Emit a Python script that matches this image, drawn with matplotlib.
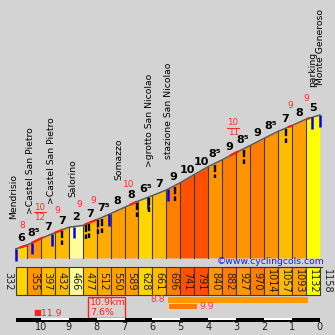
import numpy as np
import matplotlib
matplotlib.use('Agg')
import matplotlib.pyplot as plt
from matplotlib.transforms import blended_transform_factory, offset_copy
from matplotlib.patches import Rectangle

# ---------------- data ----------------
distances = [0.0, 0.4, 0.9, 1.4, 1.9, 2.4, 2.9, 3.4, 3.9, 4.4, 4.9, 5.4,
             5.9, 6.4, 6.9, 7.4, 7.9, 8.4, 8.9, 9.4, 9.9, 10.4, 10.9]
altitudes = [332, 355, 397, 432, 466, 477, 512, 550, 589, 628, 661, 696,
             741, 791, 840, 882, 927, 970, 1014, 1057, 1093, 1132, 1158]
gradients = [6, 8.5, 7, 7, 2, 7, 7.5, 8, 8, 6.5, 7, 9, 10, 10, 8.5, 9,
             8.5, 9, 8.5, 7, 8, 5]

place_names = ["Mendrisio", ">Castel San Pietro", ">Castel San Pietro",
               "Salorino", "Somazzo", ">grotto San Nicolao",
               "stazione San Nicolao", "parking", "Monte Generoso"]
place_km = [-0.06, 0.52, 1.30, 2.05, 3.70, 4.78, 5.46, 10.66, 10.94]

blue_marker_km = [0.0, 0.58, 1.30, 2.09, 3.34, 4.74, 5.46, 10.62, 10.91]
black_marker_km = [1.66, 2.52, 2.63, 2.95, 3.09, 4.35, 4.78, 5.71, 7.14, 8.18, 9.69]

steep_km = [(0.15, 0.41), (0.58, 0.98), (1.41, 1.70), (2.48, 2.91),
            (4.10, 4.35), (7.68, 7.97), (9.76, 9.90), (10.44, 10.55)]
steep_labels = ["8", "10/12", "9", "9", "9", "10", "10/11", "9", "9"]
steep_label_km = [0.23, 0.87, 1.48, 2.27, 2.77, 4.06, 7.79, 9.83, 10.41]

km_to_go = [10, 9, 8, 7, 6, 5, 4, 3, 2, 1, 0]
best_stretches = [(5.46, 10.46, 8.8), (5.50, 6.50, 9.9)]
max_gradient = 11.9

# ---------------- style ----------------
BG = '#d3d3d3'
W = H = 335
PX_PER_KM = 27.9
X0 = 15.7
PX_PER_M = 0.1622
Y_REF = 249
BASE_ALT = 277
RED = '#ff2a2a'

def grade_color(g):
    table = {2: '#ffff99', 5: '#ffff00', 6: '#ffd400', 6.5: '#ffd700',
             7: '#ffbb00', 7.5: '#ffaa00', 8: '#ffa000', 8.5: '#ff9500',
             9: '#ff7d00', 10: '#ff5000'}
    return table.get(g, '#ffaa00')

def grade_text(g):
    if g == int(g):
        return str(int(g))
    return str(int(g)) + '\u2075'

def fy(py):
    return 1 - py / H

def pt(px):
    return px * 0.72

fig = plt.figure(figsize=(W / 100, H / 100), dpi=100)
fig.patch.set_facecolor(BG)
ax = fig.add_axes([0, 0, 1, 1])
ax.set_facecolor(BG)
ax.set_xlim(-X0 / PX_PER_KM, (W - X0) / PX_PER_KM)
ax.set_ylim(altitudes[0] - (H - Y_REF) / PX_PER_M, altitudes[0] + Y_REF / PX_PER_M)
ax.axis('off')
tb = blended_transform_factory(ax.transData, ax.transAxes)

d = np.array(distances)
a = np.array(altitudes, dtype=float)

def alt_at(x):
    return float(np.interp(x, d, a))

# profile segments
nseg = len(gradients)
for i in range(nseg):
    c = grade_color(gradients[i])
    ax.fill_between(d[i:i + 2], a[i:i + 2], BASE_ALT, color=c, lw=0, zorder=1)
for i in range(1, nseg):
    ax.plot([d[i], d[i]], [BASE_ALT, a[i]], color='#3a3a3a', lw=0.8, zorder=2)
ax.plot(d, a, color='#5a5a5a', lw=1.1, zorder=3)

# steep sections in red
for s, e in steep_km:
    xs = np.linspace(s, e, 8)
    ax.plot(xs, [alt_at(x) for x in xs], color='#ff1a1a', lw=1.6, zorder=4,
            solid_capstyle='butt')

# markers
for k in blue_marker_km:
    y = alt_at(k)
    ax.plot([k, k], [y, y - 72], color='#0000ff', lw=1.8, zorder=5, solid_capstyle='butt')
for k in black_marker_km:
    y = alt_at(k) - 8
    ax.plot([k, k], [y, y - 85], color='black', lw=1.7, zorder=5,
            linestyle=(0, (3, 1)), solid_capstyle='butt')

# gradient labels
for i in range(nseg):
    mid = (d[i] + d[i + 1]) / 2
    ax.annotate(grade_text(gradients[i]), xy=(mid, alt_at(mid)),
                xytext=(0, pt(9)), textcoords='offset points',
                ha='center', va='center', fontsize=8, fontweight='bold',
                color='black', zorder=6)

# red steep labels
for lab, k in zip(steep_labels, steep_label_km):
    y = alt_at(k)
    if '/' in lab:
        top, bot = lab.split('/')
        ax.annotate(top, xy=(k, y), xytext=(0, pt(31.5)), textcoords='offset points',
                    ha='center', va='center', fontsize=6.3, color=RED)
        ax.annotate(bot, xy=(k, y), xytext=(0, pt(21.5)), textcoords='offset points',
                    ha='center', va='center', fontsize=6.3, color=RED)
        tr = offset_copy(ax.transData, fig=fig, x=0, y=pt(26.5), units='points')
        ax.plot([k - 0.22, k + 0.22], [y, y], transform=tr, color=RED, lw=0.8)
    else:
        ax.annotate(lab, xy=(k, y), xytext=(0, pt(21)), textcoords='offset points',
                    ha='center', va='center', fontsize=6.5, color=RED)

# place names
for name, k in zip(place_names, place_km):
    y = alt_at(min(max(k, 0), distances[-1]))
    ax.annotate(name, xy=(k, y), xytext=(0, pt(30)), textcoords='offset points',
                rotation=90, ha='center', va='bottom', fontsize=6.7, color='black')

# watermark
ax.text((217 - X0) / PX_PER_KM, fy(262), '\u00a9www.cyclingcols.com', transform=tb,
        fontsize=6.7, color='#1a1aff', ha='left', va='center')
ax.plot([(225 - X0) / PX_PER_KM, (322 - X0) / PX_PER_KM], [fy(266.5), fy(266.5)],
        transform=tb, color='#1a1aff', lw=0.8)

# altitude boxes
for i in range(nseg):
    r = Rectangle((d[i], fy(295)), d[i + 1] - d[i], fy(267) - fy(295), transform=tb,
                  facecolor=grade_color(gradients[i]), edgecolor='#3a3a3a', lw=0.8)
    ax.add_patch(r)
    if i > 0:
        ax.text((d[i] + d[i + 1]) / 2, fy(281), str(altitudes[i]), transform=tb,
                rotation=-90, ha='center', va='center', fontsize=7, color='#202020')
ax.text(d[0] - 0.28, fy(281), str(altitudes[0]), transform=tb, rotation=-90,
        ha='center', va='center', fontsize=7, color='#202020')
ax.text(d[-1] + 0.26, fy(281), str(altitudes[-1]), transform=tb, rotation=-90,
        ha='center', va='center', fontsize=7, color='#202020')

# summary box
total_km = distances[-1]
avg = (altitudes[-1] - altitudes[0]) / (total_km * 1000) * 100
bx0, bx1 = (88 - X0) / PX_PER_KM, (125 - X0) / PX_PER_KM
ax.add_patch(Rectangle((bx0, fy(318)), bx1 - bx0, fy(297) - fy(318), transform=tb,
                       facecolor='none', edgecolor='#ff2020', lw=1))
ax.text(bx0 + 0.07, fy(302.5), f'{total_km:.1f}km', transform=tb, fontsize=6.8,
        color='#ff2020', ha='left', va='center')
ax.text(bx0 + 0.07, fy(312.5), f'{avg:.1f}%', transform=tb, fontsize=6.8,
        color='#ff2020', ha='left', va='center')

# max gradient
ax.text((33 - X0) / PX_PER_KM, fy(313), '\u25a0', transform=tb, fontsize=6,
        color='#ff2020', ha='left', va='center')
ax.text((41 - X0) / PX_PER_KM, fy(313), f'{max_gradient:.1f}', transform=tb,
        fontsize=6.7, color='#ff2020', ha='left', va='center')

# best stretches
bar_rows = [(297, 303, '#ff9900'), (303.5, 309, '#ff7a00')]
for (s, e, v), (t, b, c) in zip(best_stretches, bar_rows):
    ax.add_patch(Rectangle((s, fy(b)), e - s, fy(t) - fy(b), transform=tb,
                           facecolor=c, edgecolor='none'))
ax.text(best_stretches[0][0] - 0.1, fy(300), f'{best_stretches[0][2]:.1f}', transform=tb,
        fontsize=6.7, color='#ff3050', ha='right', va='center')
ax.text(best_stretches[1][1] + 0.07, fy(306.5), f'{best_stretches[1][2]:.1f}', transform=tb,
        fontsize=6.7, color='#ff3050', ha='left', va='center')

# scale bar
ax.add_patch(Rectangle((0, fy(322)), total_km, fy(318) - fy(322), transform=tb,
                       facecolor='black', edgecolor='none'))
for k in km_to_go:
    if k % 2 == 0 and k > 0:
        s = total_km - k
        ax.add_patch(Rectangle((s, fy(320)), 1.0, fy(318) - fy(320), transform=tb,
                               facecolor='white', edgecolor='none'))
    ax.text(total_km - k, fy(326.5), str(k), transform=tb, fontsize=7,
            color='#202020', ha='center', va='center')

fig.savefig('out.png', dpi=100, facecolor=BG)
